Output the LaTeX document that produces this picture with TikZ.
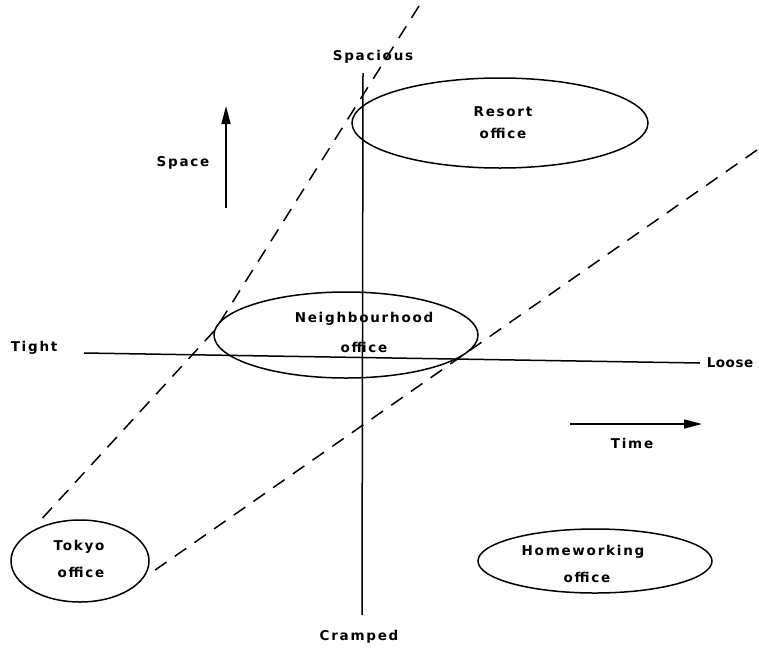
\documentclass[tikz,border=0pt]{standalone}
\usepackage{fontspec}
\setmainfont{DejaVu Sans}[LetterSpace=13]
\newfontfamily\tightfont{DejaVu Sans}[LetterSpace=4]
\usetikzlibrary{shapes.geometric,arrows.meta}
\begin{document}
\begin{tikzpicture}[x=1pt,y=-1pt,
  line width=1.5pt,
  oval/.style={draw,ellipse,inner sep=0pt},
  lbl/.style={font=\fontsize{13.5}{16}\selectfont\bfseries,inner sep=0pt},
  dashline/.style={dash pattern=on 14pt off 10pt,line width=1.5pt},
  arr/.style={-{Triangle[length=18pt,width=9pt]}}]
\useasboundingbox (0,0) rectangle (759,648);
% axes
\coordinate (vt) at (363,73);
\coordinate (vb) at (362,615);
\coordinate (hl) at (84,353);
\coordinate (hr) at (700,363);
\draw (vt) -- (vb);
\draw (hl) -- (hr);
\node[lbl] (spacious) at (373,57) {Spacious};
\node[lbl] (cramped) at (359,637) {Cramped};
\node[lbl,anchor=west] (tight) at (10,348) {Tight};
\node[lbl,anchor=west,font=\fontsize{13.5}{16}\selectfont\tightfont\bfseries] (loose) at (706,363) {Loose};
% ellipses
\node[oval,minimum width=296pt,minimum height=90pt] (resort) at (500,123) {};
\node[oval,minimum width=264pt,minimum height=86pt] (neigh) at (346,335) {};
\node[oval,minimum width=138pt,minimum height=82pt] (tokyo) at (80,561) {};
\node[oval,minimum width=234pt,minimum height=64pt] (home) at (595,561) {};
% ellipse texts
\node[lbl] (resortA) at (503,112) {Resort};
\node[lbl] (resortB) at (503,133) {office};
\node[lbl] (neighA) at (364,319) {Neighbourhood};
\node[lbl] (neighB) at (364,347) {office};
\node[lbl] (tokyoA) at (79,547) {Tokyo};
\node[lbl] (tokyoB) at (81,572) {office};
\node[lbl] (homeA) at (583,552) {Homeworking};
\node[lbl] (homeB) at (587,577) {office};
% dashed lines
\coordinate (d1t) at (419,6);
\coordinate (d1m) at (215,330);
\coordinate (d1b) at (38,523);
\coordinate (d2t) at (757,150);
\coordinate (d2b) at (148,575);
\draw[dashline] (d1t) -- (d1m) -- (d1b);
\draw[dashline] (d2t) -- (d2b);
% direction arrows
\coordinate (s0) at (226,208);
\coordinate (s1) at (226,106);
\draw[arr] (s0) -- (s1);
\node[lbl] (space) at (183,163) {Space};
\coordinate (t0) at (570,424);
\coordinate (t1) at (702,424);
\draw[arr] (t0) -- (t1);
\node[lbl] (time) at (632,443) {Time};
\end{tikzpicture}
\end{document}
